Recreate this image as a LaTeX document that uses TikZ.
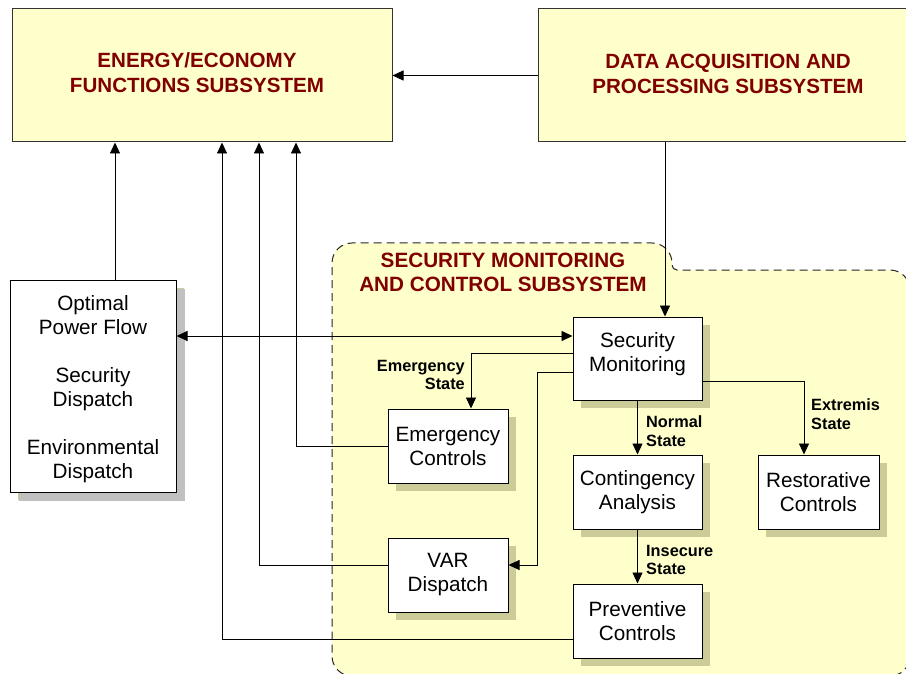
\documentclass[tikz,border=0pt]{standalone}
\usepackage{fontspec}
\setmainfont{Liberation Sans}
\usetikzlibrary{arrows.meta,shadows,calc}
\definecolor{boxyellow}{HTML}{FFFFCC}
\definecolor{titlered}{HTML}{800000}
\definecolor{tanshadow}{HTML}{CCCC99}
\definecolor{grayshadow}{HTML}{C0C0C0}
\begin{document}
\begin{tikzpicture}[x=1pt,y=-1pt,
  bigbox/.style={draw=black!80, fill=boxyellow, line width=1pt, inner sep=0pt},
  titletext/.style={text=titlered, font=\fontsize{20.6}{25}\selectfont\bfseries, align=center},
  procbox/.style={draw=black, fill=white, line width=1pt, inner sep=0pt, align=center,
    font=\fontsize{20.7}{24}\selectfont,
    drop shadow={shadow xshift=8pt, shadow yshift=-8pt, fill=tanshadow, opacity=1, draw=none}},
  statelabel/.style={font=\fontsize{16.3}{18.5}\selectfont\bfseries, inner sep=0pt},
  conn/.style={line width=0.9pt, draw=black},
  arr/.style={conn, -{Triangle[length=11pt,width=10pt]}},
  dblarr/.style={conn, {Triangle[length=11pt,width=10pt]}-{Triangle[length=11pt,width=10pt]}},
]
\clip (0,0) rectangle (906,674);
\fill[white] (0,0) rectangle (906,674);

% security region
\draw[dash pattern=on 8pt off 5pt, line width=1pt, draw=black!85, fill=boxyellow]
  (332,600) [rounded corners=20pt] -- (332,243) -- (672,243) [rounded corners=5pt] -- (672,270)
  [rounded corners=20pt] -- (910,270) -- (910,676) -- (332,676) [sharp corners] -- (332,600);
\node[titletext, font=\fontsize{20.7}{24}\selectfont\bfseries] (sectitle) at (503,272)
  {SECURITY MONITORING\\AND CONTROL SUBSYSTEM};

% top boxes
\node[bigbox, minimum width=380pt, minimum height=133pt] (energy) at (202,75.5) {};
\node[titletext] (energytxt) at (197,73) {ENERGY/ECONOMY\\FUNCTIONS SUBSYSTEM};
\node[bigbox, minimum width=377pt, minimum height=133pt] (data) at (726.5,75.5) {};
\node[titletext] (datatxt) at (728,74) {DATA ACQUISITION AND\\PROCESSING SUBSYSTEM};

% left box
\node[procbox, drop shadow={shadow xshift=9pt, shadow yshift=-9pt, fill=grayshadow, opacity=1},
  minimum width=166pt, minimum height=212pt] (opt) at (93,386)
  {\raisebox{0pt}[\dimexpr\height+8pt\relax][\depth]{\begin{tabular}{@{}c@{}}Optimal\\Power Flow\\[24pt]Security\\Dispatch\\[24pt]Environmental\\Dispatch\end{tabular}}};

% process boxes
\node[procbox, minimum width=129pt, minimum height=83pt] (sm) at (637.5,358.5)
  {\raisebox{0pt}[\height][\dimexpr\depth+7pt\relax]{\begin{tabular}{@{}c@{}}Security\\Monitoring\end{tabular}}};
\node[procbox, minimum width=129pt, minimum height=74pt] (cont) at (637.5,492) {Contingency\\Analysis};
\node[procbox, minimum width=129pt, minimum height=74pt] (prev) at (637.5,621) {Preventive\\Controls};
\node[procbox, minimum width=121pt, minimum height=74pt] (rest) at (818.5,492) {Restorative\\Controls};
\node[procbox, minimum width=120pt, minimum height=74pt] (em) at (448,446) {Emergency\\Controls};
\node[procbox, minimum width=120pt, minimum height=74pt] (var) at (448,575) {VAR\\Dispatch};

% helper coordinates
\coordinate (x115) at (115,0);
\coordinate (x222) at (222,0);
\coordinate (x259) at (259,0);
\coordinate (x296) at (296,0);
\coordinate (x471) at (471,0);
\coordinate (x537) at (537,0);
\coordinate (x665) at (665,0);
\coordinate (x804) at (804,0);
\coordinate (y336) at (0,336);
\coordinate (y353) at (0,353);
\coordinate (y372) at (0,372);
\coordinate (y381) at (0,381);
\coordinate (y565) at (0,565);
\coordinate (y639) at (0,639);

% connectors
\draw[arr] (data.west) -- (energy.east);
\draw[arr] (data.south -| x665) -- (sm.north -| x665);
\draw[arr] (opt.north -| x115) -- (energy.south -| x115);
\draw[arr] (em.west) -| (energy.south -| x296);
\draw[arr] (var.west |- y565) -| (energy.south -| x259);
\draw[arr] (prev.west |- y639) -| (energy.south -| x222);
\draw[dblarr] (opt.east |- y336) -- (sm.west |- y336);
\draw[arr] (sm.west |- y353) -| (em.north -| x471);
\draw[arr] (sm.west |- y372) -| (x537 |- y565) -- (var.east |- y565);
\draw[arr] (sm.south) -- (cont.north);
\draw[arr] (cont.south) -- (prev.north);
\draw[arr] (sm.east |- y381) -| (rest.north -| x804);

% state labels
\node[statelabel, align=right, anchor=east] (lemer) at (465,375) {Emergency\\State};
\node[statelabel, align=left, anchor=west] (lnorm) at (646,431) {Normal\\State};
\node[statelabel, align=left, anchor=west] (linsec) at (646,560) {Insecure\\State};
\node[statelabel, align=left, anchor=west] (lextr) at (811,414) {Extremis\\State};
\end{tikzpicture}
\end{document}
